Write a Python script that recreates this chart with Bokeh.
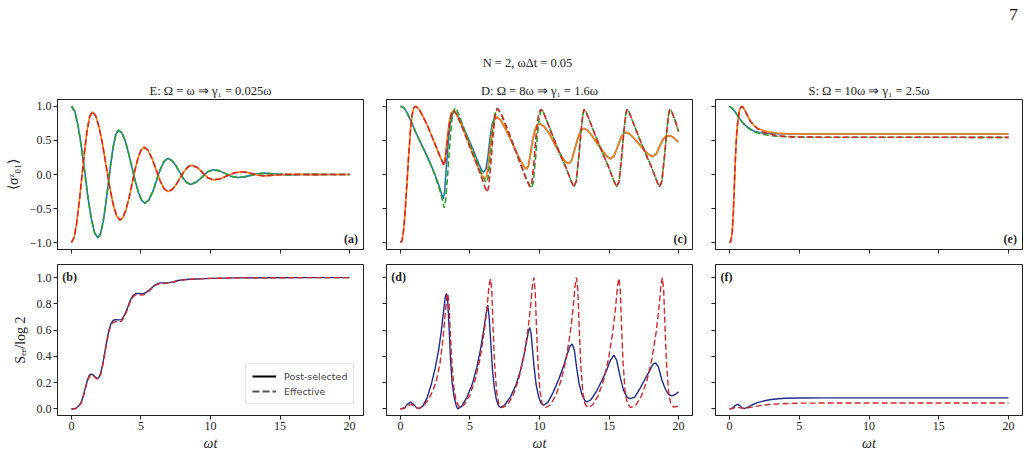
from bokeh.plotting import figure
from bokeh.layouts import column, row
from bokeh.models import (FixedTicker, Label, Legend, LegendItem,
                          CustomJSTickFormatter, Range1d)
from bokeh.embed import file_html
from bokeh.resources import INLINE

# ---------------------------------------------------------------------------
# Data: (omega*t, value) samples for every curve
# ---------------------------------------------------------------------------

# Panel E (Omega = omega): <sigma_z> for the two qubits; post-selected and
# effective dynamics coincide here.
SZ_UP_E = [(0, 1.0), (0.24, 0.927), (0.48, 0.717), (0.72, 0.405), (0.96, 0.035),
           (1.19, -0.335), (1.43, -0.647), (1.67, -0.857), (1.91, -0.93),
           (2.09, -0.870), (2.28, -0.699), (2.46, -0.443), (2.65, -0.14),
           (2.83, 0.163), (3.02, 0.419), (3.20, 0.590), (3.39, 0.65),
           (3.63, 0.609), (3.87, 0.493), (4.10, 0.320), (4.34, 0.115),
           (4.58, -0.090), (4.82, -0.263), (5.05, -0.379), (5.29, -0.42),
           (5.56, -0.376), (5.84, -0.256), (6.11, -0.093), (6.38, 0.071),
           (6.66, 0.191), (6.93, 0.235), (7.20, 0.210), (7.48, 0.140),
           (7.75, 0.045), (8.02, -0.050), (8.30, -0.120), (8.57, -0.145),
           (8.98, -0.114), (9.39, -0.038), (9.79, 0.039), (10.2, 0.07),
           (10.64, 0.053), (11.08, 0.013), (11.51, -0.028), (11.95, -0.045),
           (12.43, -0.035), (12.9, -0.013), (13.38, 0.011), (13.86, 0.02),
           (14.7, 0.006), (15.6, -0.005), (16.5, 0.0), (17.5, 0.002),
           (18.5, 0.0), (20, 0.0)]
SZ_DN_E = [(0, -1.0), (0.19, -0.927), (0.375, -0.719), (0.56, -0.407),
           (0.75, -0.04), (0.94, 0.327), (1.125, 0.639), (1.31, 0.847),
           (1.5, 0.92), (1.75, 0.860), (2.0, 0.687), (2.25, 0.429),
           (2.5, 0.125), (2.75, -0.179), (3.0, -0.437), (3.25, -0.610),
           (3.5, -0.67), (3.715, -0.629), (3.93, -0.513), (4.145, -0.340),
           (4.36, -0.135), (4.575, 0.070), (4.79, 0.243), (5.005, 0.359),
           (5.22, 0.40), (5.51, 0.356), (5.79, 0.238), (6.08, 0.075),
           (6.37, -0.088), (6.65, -0.206), (6.94, -0.25), (7.23, -0.224),
           (7.51, -0.154), (7.80, -0.058), (8.08, 0.039), (8.37, 0.109),
           (8.65, 0.135), (9.04, 0.104), (9.43, 0.028), (9.81, -0.049),
           (10.2, -0.08), (10.7, -0.062), (11.2, -0.02), (11.69, 0.022),
           (12.19, 0.04), (12.61, 0.031), (13.02, 0.01), (13.44, -0.011),
           (13.86, -0.02), (14.7, -0.008), (15.5, 0.004), (16.5, 0.0),
           (17.5, -0.002), (18.5, 0.0), (20, 0.0)]

# Panel D (Omega = 8 omega)
D_POST_TAIL = [(7.2, 0.8), (7.6, 0.65), (8.0, 0.48), (8.4, 0.3), (8.75, 0.16),
               (8.95, 0.1), (9.07, 0.085), (9.2, 0.12), (9.35, 0.3), (9.5, 0.5),
               (9.7, 0.67), (9.85, 0.73), (10.03, 0.74), (10.3, 0.71),
               (10.7, 0.6), (11.1, 0.44), (11.5, 0.3), (11.8, 0.2),
               (12.08, 0.16), (12.3, 0.2), (12.55, 0.38), (12.8, 0.56),
               (13.0, 0.65), (13.2, 0.675), (13.45, 0.65), (13.8, 0.56),
               (14.2, 0.44), (14.6, 0.33), (14.9, 0.26), (15.1, 0.23),
               (15.35, 0.27), (15.6, 0.4), (15.85, 0.54), (16.05, 0.6),
               (16.25, 0.615), (16.5, 0.59), (16.9, 0.51), (17.3, 0.41),
               (17.7, 0.32), (17.95, 0.28), (18.15, 0.265), (18.4, 0.3),
               (18.65, 0.42), (18.9, 0.52), (19.1, 0.56), (19.3, 0.57),
               (19.55, 0.555), (19.8, 0.51), (20.0, 0.475)]
SZ_UP_POST_D = [(0, 1.0), (0.25, 0.98), (0.5, 0.9), (0.8, 0.76), (1.1, 0.62),
                (1.4, 0.49), (1.7, 0.36), (2.0, 0.23), (2.3, 0.09),
                (2.55, -0.04), (2.8, -0.18), (2.95, -0.28), (3.07, -0.36),
                (3.18, -0.25), (3.3, 0.1), (3.45, 0.5), (3.6, 0.78),
                (3.75, 0.9), (3.88, 0.93), (4.1, 0.88), (4.5, 0.7), (4.9, 0.52),
                (5.3, 0.33), (5.65, 0.15), (5.85, 0.06), (6.0, 0.035),
                (6.15, 0.08), (6.3, 0.28), (6.45, 0.55), (6.6, 0.74),
                (6.75, 0.82), (6.92, 0.84)] + D_POST_TAIL
SZ_DN_POST_D = [(0, -1.0), (0.12, -0.97), (0.24, -0.8), (0.36, -0.48),
                (0.48, -0.1), (0.6, 0.3), (0.72, 0.64), (0.84, 0.87),
                (0.96, 0.98), (1.1, 1.0), (1.3, 0.97), (1.5, 0.9), (1.7, 0.82),
                (2.0, 0.69), (2.3, 0.54), (2.6, 0.39), (2.9, 0.24), (3.05, 0.17),
                (3.12, 0.14), (3.2, 0.22), (3.35, 0.5), (3.5, 0.76), (3.65, 0.9),
                (3.8, 0.93), (4.0, 0.9), (4.4, 0.72), (4.8, 0.52), (5.2, 0.3),
                (5.6, 0.1), (5.9, -0.03), (6.07, -0.065), (6.2, -0.02),
                (6.35, 0.2), (6.5, 0.5), (6.65, 0.72), (6.8, 0.82),
                (6.95, 0.84)] + D_POST_TAIL
D_EFF_TAIL = [(10.12, 0.955), (10.27, 0.92), (10.48, 0.81), (10.96, 0.56),
              (11.44, 0.32), (11.91, 0.10), (12.28, -0.10), (12.47, -0.18),
              (12.64, -0.10), (12.83, 0.27), (13.0, 0.66), (13.12, 0.88),
              (13.2, 0.955), (13.35, 0.92), (13.56, 0.81), (14.04, 0.56),
              (14.52, 0.32), (14.99, 0.10), (15.36, -0.10), (15.55, -0.18),
              (15.72, -0.10), (15.91, 0.27), (16.08, 0.66), (16.2, 0.88),
              (16.28, 0.955), (16.43, 0.92), (16.64, 0.81), (17.12, 0.56),
              (17.6, 0.32), (18.07, 0.10), (18.44, -0.10), (18.63, -0.18),
              (18.8, -0.10), (18.99, 0.27), (19.16, 0.66), (19.28, 0.88),
              (19.36, 0.955), (19.51, 0.92), (19.72, 0.81), (20.0, 0.63)]
SZ_UP_EFF_D = [(0, 1.0), (0.25, 0.98), (0.5, 0.9), (0.8, 0.76), (1.1, 0.62),
               (1.4, 0.49), (1.7, 0.36), (2.0, 0.23), (2.3, 0.09),
               (2.55, -0.05), (2.8, -0.21), (3.0, -0.36), (3.14, -0.49),
               (3.25, -0.38), (3.4, 0.0), (3.55, 0.45), (3.7, 0.8), (3.85, 0.95),
               (3.98, 0.98), (4.2, 0.88), (4.6, 0.66), (5.0, 0.45), (5.4, 0.24),
               (5.8, 0.04), (6.0, -0.06), (6.15, -0.12), (6.3, -0.05),
               (6.45, 0.25), (6.6, 0.6), (6.75, 0.85), (6.9, 0.96),
               (6.98, 0.97), (7.3, 0.87), (7.7, 0.66), (8.2, 0.39), (8.7, 0.12),
               (9.1, -0.08), (9.3, -0.17), (9.42, -0.2), (9.55, -0.12),
               (9.7, 0.2), (9.85, 0.58), (10.0, 0.85)] + D_EFF_TAIL
SZ_DN_EFF_D = [(0, -1.0), (0.12, -0.97), (0.24, -0.8), (0.36, -0.48),
               (0.48, -0.1), (0.6, 0.3), (0.72, 0.64), (0.84, 0.87),
               (0.96, 0.98), (1.1, 1.0), (1.3, 0.97), (1.5, 0.9), (1.7, 0.82),
               (2.0, 0.69), (2.3, 0.54), (2.6, 0.39), (2.9, 0.24), (3.05, 0.17),
               (3.14, 0.13), (3.22, 0.2), (3.38, 0.5), (3.53, 0.76),
               (3.68, 0.9), (3.84, 0.94), (4.1, 0.86), (4.5, 0.66), (5.0, 0.4),
               (5.5, 0.14), (5.9, -0.08), (6.1, -0.2), (6.23, -0.26),
               (6.35, -0.18), (6.5, 0.15), (6.65, 0.55), (6.8, 0.85),
               (6.93, 0.95), (7.03, 0.96), (7.3, 0.86), (7.7, 0.66),
               (8.2, 0.39), (8.7, 0.12), (9.05, -0.07), (9.3, -0.18),
               (9.45, -0.12), (9.6, 0.18), (9.75, 0.56), (9.9, 0.84),
               (10.02, 0.93)] + D_EFF_TAIL

# Panel S (Omega = 10 omega)
SZ_UP_POST_S = [(0, 1.0), (0.2, 0.97), (0.4, 0.92), (0.6, 0.86), (0.8, 0.8),
                (1.0, 0.75), (1.25, 0.7), (1.5, 0.665), (1.8, 0.635),
                (2.2, 0.612), (2.7, 0.602), (3.4, 0.597), (4.2, 0.595),
                (5.0, 0.595), (20.0, 0.595)]
SZ_UP_EFF_S = [(0, 1.0), (0.2, 0.97), (0.4, 0.92), (0.6, 0.86), (0.8, 0.8),
               (1.0, 0.75), (1.25, 0.7), (1.5, 0.66), (1.8, 0.625), (2.2, 0.6),
               (2.7, 0.578), (3.4, 0.562), (4.2, 0.553), (5.0, 0.549),
               (7.0, 0.546), (20.0, 0.545)]
SZ_DN_POST_S = [(0, -1.0), (0.1, -0.98), (0.2, -0.85), (0.28, -0.55),
                (0.36, -0.12), (0.44, 0.3), (0.52, 0.6), (0.6, 0.78),
                (0.7, 0.92), (0.8, 0.985), (0.9, 1.0), (1.0, 0.98),
                (1.13, 0.93), (1.3, 0.86), (1.5, 0.78), (1.75, 0.72),
                (2.0, 0.68), (2.4, 0.645), (2.8, 0.625), (3.4, 0.608),
                (4.0, 0.6), (5.0, 0.596), (20.0, 0.595)]
SZ_DN_EFF_S = [(0, -1.0), (0.1, -0.98), (0.2, -0.85), (0.28, -0.55),
               (0.36, -0.12), (0.44, 0.3), (0.52, 0.6), (0.6, 0.78),
               (0.7, 0.92), (0.8, 0.985), (0.9, 1.0), (1.0, 0.98),
               (1.13, 0.93), (1.3, 0.86), (1.5, 0.78), (1.75, 0.72),
               (2.0, 0.675), (2.4, 0.625), (2.8, 0.595), (3.4, 0.57),
               (4.0, 0.557), (5.0, 0.55), (7.0, 0.546), (20.0, 0.545)]

# Entanglement entropy S_EE / log 2
SEE_POST_E = [(0, 0), (0.3, 0.003), (0.5, 0.02), (0.7, 0.05), (0.85, 0.1),
              (1.0, 0.16), (1.15, 0.22), (1.3, 0.26), (1.45, 0.265),
              (1.6, 0.255), (1.8, 0.235), (1.95, 0.235), (2.1, 0.27),
              (2.25, 0.34), (2.4, 0.43), (2.55, 0.52), (2.7, 0.6), (2.85, 0.65),
              (3.0, 0.675), (3.2, 0.68), (3.4, 0.678), (3.6, 0.68), (3.8, 0.71),
              (4.0, 0.76), (4.2, 0.82), (4.4, 0.86), (4.6, 0.877), (4.8, 0.88),
              (5.0, 0.878), (5.2, 0.88), (5.4, 0.89), (5.6, 0.905),
              (5.8, 0.925), (6.0, 0.943), (6.2, 0.955), (6.4, 0.96),
              (6.7, 0.96), (7.0, 0.962), (7.3, 0.968), (7.6, 0.976),
              (8.0, 0.984), (8.5, 0.988), (9.0, 0.99), (10.0, 0.994),
              (11.0, 0.996), (12.0, 0.998), (14.0, 0.999), (17.0, 1.0),
              (20.0, 1.0)]
SEE_EFF_E = [(0, 0), (0.3, 0.002), (0.5, 0.015), (0.7, 0.045), (0.85, 0.09),
             (1.0, 0.15), (1.15, 0.21), (1.3, 0.25), (1.45, 0.26), (1.6, 0.25),
             (1.8, 0.23), (1.95, 0.23), (2.1, 0.26), (2.25, 0.33), (2.4, 0.42),
             (2.55, 0.51), (2.7, 0.59), (2.85, 0.64), (3.0, 0.66), (3.2, 0.665),
             (3.4, 0.663), (3.6, 0.668), (3.8, 0.7), (4.0, 0.75), (4.2, 0.81),
             (4.4, 0.85), (4.6, 0.868), (4.8, 0.87), (5.0, 0.868), (5.2, 0.87),
             (5.4, 0.882), (5.6, 0.9), (5.8, 0.92), (6.0, 0.94), (6.2, 0.95),
             (6.4, 0.955), (6.7, 0.955), (7.0, 0.958), (7.3, 0.965),
             (7.6, 0.974), (8.0, 0.982), (8.5, 0.987), (9.0, 0.99),
             (10.0, 0.994), (11.0, 0.996), (12.0, 0.998), (14.0, 0.999),
             (17.0, 1.0), (20.0, 1.0)]
SEE_POST_D = [(0, 0), (0.3, 0.01), (0.5, 0.035), (0.72, 0.053), (0.95, 0.035),
              (1.15, 0.01), (1.32, 0.003), (1.6, 0.02), (1.9, 0.08), (2.2, 0.18),
              (2.5, 0.31), (2.75, 0.45), (2.95, 0.6), (3.1, 0.74), (3.22, 0.85),
              (3.31, 0.88), (3.4, 0.82), (3.5, 0.62), (3.6, 0.38), (3.72, 0.2),
              (3.85, 0.1), (4.0, 0.03), (4.12, 0.0), (4.4, 0.02), (4.79, 0.09),
              (5.2, 0.2), (5.5, 0.32), (5.75, 0.45), (5.99, 0.6), (6.15, 0.72),
              (6.28, 0.79), (6.38, 0.7), (6.5, 0.5), (6.62, 0.3), (6.75, 0.16),
              (6.9, 0.07), (7.05, 0.025), (7.19, 0.01), (7.5, 0.03), (7.9, 0.09),
              (8.3, 0.18), (8.62, 0.29), (8.9, 0.42), (9.1, 0.53), (9.22, 0.6),
              (9.3, 0.62), (9.4, 0.57), (9.5, 0.45), (9.6, 0.33), (9.75, 0.19),
              (9.94, 0.09), (10.1, 0.045), (10.3, 0.028), (10.6, 0.05),
              (11.0, 0.13), (11.4, 0.23), (11.74, 0.33), (12.0, 0.42),
              (12.2, 0.48), (12.35, 0.495), (12.5, 0.45), (12.69, 0.3),
              (12.85, 0.19), (13.05, 0.11), (13.25, 0.065), (13.41, 0.053),
              (13.7, 0.07), (14.13, 0.14), (14.5, 0.22), (14.85, 0.3),
              (15.1, 0.37), (15.35, 0.41), (15.55, 0.37), (15.81, 0.24),
              (16.05, 0.14), (16.29, 0.09), (16.53, 0.078), (16.85, 0.09),
              (17.25, 0.16), (17.6, 0.23), (17.96, 0.3), (18.15, 0.34),
              (18.35, 0.35), (18.55, 0.32), (18.8, 0.22), (19.05, 0.15),
              (19.28, 0.11), (19.52, 0.1), (19.75, 0.11), (20.0, 0.13)]
SEE_EFF_D = [(0, 0), (0.3, 0.005), (0.5, 0.02), (0.72, 0.035), (0.95, 0.025),
             (1.2, 0.008), (1.4, 0.005), (1.7, 0.03), (2.0, 0.07), (2.3, 0.13),
             (2.6, 0.22), (2.85, 0.35), (3.05, 0.52), (3.2, 0.7), (3.32, 0.84),
             (3.4, 0.88), (3.5, 0.8), (3.6, 0.55), (3.7, 0.35), (3.85, 0.16),
             (4.0, 0.06), (4.26, 0.01), (4.57, 0.03), (4.97, 0.1), (5.37, 0.22),
             (5.72, 0.38), (6.02, 0.58), (6.22, 0.76), (6.37, 0.94),
             (6.47, 0.99), (6.57, 0.9), (6.67, 0.6), (6.77, 0.35), (6.92, 0.13),
             (7.07, 0.04), (7.3, 0.01), (7.69, 0.03), (8.09, 0.1), (8.49, 0.22),
             (8.84, 0.38), (9.14, 0.58), (9.34, 0.76), (9.49, 0.94),
             (9.59, 1.0), (9.69, 0.9), (9.79, 0.6), (9.89, 0.35), (10.04, 0.13),
             (10.19, 0.04), (10.42, 0.01), (10.77, 0.03), (11.16, 0.1),
             (11.56, 0.22), (11.91, 0.38), (12.21, 0.58), (12.41, 0.76),
             (12.56, 0.94), (12.66, 1.0), (12.76, 0.9), (12.86, 0.6),
             (12.96, 0.35), (13.11, 0.13), (13.26, 0.04), (13.5, 0.01),
             (13.82, 0.03), (14.21, 0.1), (14.61, 0.22), (14.96, 0.38),
             (15.26, 0.58), (15.46, 0.76), (15.61, 0.94), (15.71, 0.995),
             (15.81, 0.9), (15.91, 0.6), (16.01, 0.35), (16.16, 0.13),
             (16.31, 0.04), (16.55, 0.01), (16.94, 0.03), (17.33, 0.1),
             (17.73, 0.22), (18.08, 0.38), (18.38, 0.58), (18.58, 0.76),
             (18.73, 0.94), (18.83, 1.0), (18.93, 0.9), (19.03, 0.6),
             (19.13, 0.35), (19.28, 0.13), (19.43, 0.04), (19.65, 0.015),
             (20.0, 0.02)]
SEE_POST_S = [(0, 0), (0.2, 0.005), (0.4, 0.025), (0.58, 0.035), (0.75, 0.025),
              (0.9, 0.008), (1.05, 0.003), (1.3, 0.012), (1.6, 0.03),
              (2.0, 0.048), (2.5, 0.062), (3.0, 0.072), (3.5, 0.078),
              (4.0, 0.081), (5.0, 0.083), (7.0, 0.084), (20.0, 0.084)]
SEE_EFF_S = [(0, 0), (0.25, 0.004), (0.48, 0.015), (0.7, 0.01), (0.95, 0.004),
             (1.3, 0.008), (1.8, 0.018), (2.3, 0.027), (3.0, 0.035),
             (3.8, 0.04), (5.0, 0.044), (7.0, 0.045), (20.0, 0.045)]

TITLES = ["E: Ω = ω ⇒ γ₁ = 0.025ω",
          "D: Ω = 8ω ⇒ γ₁ = 1.6ω",
          "S: Ω = 10ω ⇒ γ₁ = 2.5ω"]
SUPTITLE = "N = 2, ωΔt = 0.05"
PAGE_NO = "7"
X_TICKS = [0, 5, 10, 15, 20]
SZ_TICKS = [-1.0, -0.5, 0.0, 0.5, 1.0]
SEE_TICKS = [0.0, 0.2, 0.4, 0.6, 0.8, 1.0]
LEGEND_LABELS = ["Post-selected", "Effective"]

# ---------------------------------------------------------------------------
SERIF = "Liberation Serif"
C_BLUE, C_ORANGE, C_GREEN, C_RED = "#1f77b4", "#ff7f0e", "#2ca02c", "#d62728"
C_SEE_POST, C_SEE_EFF = "#1f2d8c", "#cf2a2a"
DASH = "6 3"
NAN = float("nan")


def split(pairs):
    t, v = zip(*pairs)
    return list(t), list(v)


def panel(width, height, left, right, top, bottom, y_range, y_ticks,
          x_labels, y_labels, title=None):
    kw = dict(title=title) if title else {}
    p = figure(width=width, height=height, output_backend="svg",
               toolbar_location=None, x_range=Range1d(-1, 21),
               y_range=Range1d(*y_range), min_border_left=left,
               min_border_right=right, min_border_top=top,
               min_border_bottom=bottom, **kw)
    p.grid.visible = False
    p.outline_line_color = "#222222"
    p.outline_line_width = 1
    p.background_fill_color = "white"
    p.border_fill_color = "white"
    p.xaxis.ticker = FixedTicker(ticks=X_TICKS)
    p.yaxis.ticker = FixedTicker(ticks=y_ticks)
    for ax in (p.xaxis, p.yaxis):
        ax.major_tick_out = 4
        ax.major_tick_in = 0
        ax.minor_tick_out = 0
        ax.minor_tick_in = 0
        ax.axis_line_color = "#222222"
        ax.major_tick_line_color = "#222222"
        ax.major_label_text_font = SERIF
        ax.major_label_text_font_size = "12px"
        ax.major_label_text_color = "#222222"
        ax.major_label_standoff = 2
        ax.axis_label_text_font = SERIF
        ax.axis_label_text_font_size = "14px"
        ax.axis_label_text_font_style = "normal"
        ax.axis_label_text_color = "#222222"
    p.xaxis.formatter = CustomJSTickFormatter(
        code="return tick.toFixed(0);" if x_labels else "return '';")
    p.yaxis.formatter = CustomJSTickFormatter(
        code="return tick.toFixed(1).replace('-', '\u2212');" if y_labels
        else "return '';")
    if title:
        p.title.text_font = SERIF
        p.title.text_font_size = "12.5px"
        p.title.text_font_style = "normal"
        p.title.text_color = "#222222"
        p.title.align = "center"
        p.title.standoff = 4
    return p


def tag(p, text, x, y, align, baseline):
    p.add_layout(Label(x=x, y=y, text=text, text_align=align,
                       text_baseline=baseline, text_font=SERIF,
                       text_font_style="bold", text_font_size="12px",
                       text_color="#222222"))


SZ_RANGE = (-1.1, 1.1)
SEE_RANGE = (-0.05, 1.1)

# column geometry: (figure width, left border, right border)
cols = [(372, 57, 9), (331, 14, 11), (326, 12, 7)]

top_row, bottom_row = [], []
sz_sets = [
    (SZ_UP_E, SZ_DN_E, SZ_UP_E, SZ_DN_E),
    (SZ_UP_POST_D, SZ_DN_POST_D, SZ_UP_EFF_D, SZ_DN_EFF_D),
    (SZ_UP_POST_S, SZ_DN_POST_S, SZ_UP_EFF_S, SZ_DN_EFF_S),
]
see_sets = [(SEE_POST_E, SEE_EFF_E), (SEE_POST_D, SEE_EFF_D),
            (SEE_POST_S, SEE_EFF_S)]
tags_top = ["(a)", "(c)", "(e)"]
tags_bottom = ["(b)", "(d)", "(f)"]

for i, (w, lb, rb) in enumerate(cols):
    # <sigma_z> panels
    pt = panel(w, 184, lb, rb, 27, 7, SZ_RANGE, SZ_TICKS, False, i == 0,
               TITLES[i])
    up_post, dn_post, up_eff, dn_eff = sz_sets[i]
    for pairs, color, dash in ((up_post, C_BLUE, "solid"),
                               (dn_post, C_ORANGE, "solid"),
                               (up_eff, C_GREEN, DASH),
                               (dn_eff, C_RED, DASH)):
        x, y = split(pairs)
        pt.line(x, y, line_color=color, line_width=1.6, line_dash=dash)
    tag(pt, tags_top[i], 20.6, -1.045, "right", "bottom")
    if i == 0:
        pt.yaxis.axis_label = "⟨σᶻ₀₁⟩"
        pt.yaxis.axis_label_standoff = 6
    top_row.append(pt)

    # entanglement entropy panels
    pb = panel(w, 200, lb, rb, 8, 41, SEE_RANGE, SEE_TICKS, True, i == 0)
    post, eff = see_sets[i]
    x, y = split(post)
    pb.line(x, y, line_color=C_SEE_POST, line_width=1.4)
    x, y = split(eff)
    pb.line(x, y, line_color=C_SEE_EFF, line_width=1.4, line_dash=DASH)
    pb.xaxis.axis_label = "ωt"
    pb.xaxis.axis_label_text_font_style = "italic"
    pb.xaxis.axis_label_standoff = 3
    tag(pb, tags_bottom[i], -0.65, 1.055, "left", "top")
    if i == 0:
        pb.yaxis.axis_label = "Sₑₑ/log 2"
        pb.yaxis.axis_label_standoff = 6
        # style keys for the legend (they draw nothing inside the frame)
        r_post = pb.line([NAN], [NAN], line_color="black", line_width=2)
        r_eff = pb.line([NAN], [NAN], line_color="#555555", line_width=2,
                        line_dash="7 3")
        legend = Legend(items=[LegendItem(label=LEGEND_LABELS[0], renderers=[r_post], index=0),
                               LegendItem(label=LEGEND_LABELS[1], renderers=[r_eff], index=0)],
                        location=(188, 11), margin=0, padding=6, spacing=3,
                        glyph_width=24, glyph_height=12, label_height=12,
                        label_standoff=8, label_text_font="DejaVu Sans",
                        label_text_font_size="9.5px",
                        border_line_color="#cccccc", border_line_width=1,
                        background_fill_alpha=0.85)
        pb.add_layout(legend)
    bottom_row.append(pb)

# header strip with page number and overall parameters
head = figure(width=1029, height=72, output_backend="svg", toolbar_location=None,
              x_range=Range1d(0, 1029), y_range=Range1d(0, 72), min_border=0)
head.axis.visible = False
head.grid.visible = False
head.outline_line_color = None
head.add_layout(Label(x=527, y=10, text=SUPTITLE, text_align="center",
                      text_baseline="middle", text_font=SERIF,
                      text_font_size="12.5px", text_color="#222222"))
head.add_layout(Label(x=1013, y=58, text=PAGE_NO, text_align="center",
                      text_baseline="middle", text_font=SERIF,
                      text_font_size="17px", text_color="#111111"))

layout = column(head, row(*top_row), row(*bottom_row))
open("out.html", "w").write(file_html(layout, INLINE))
